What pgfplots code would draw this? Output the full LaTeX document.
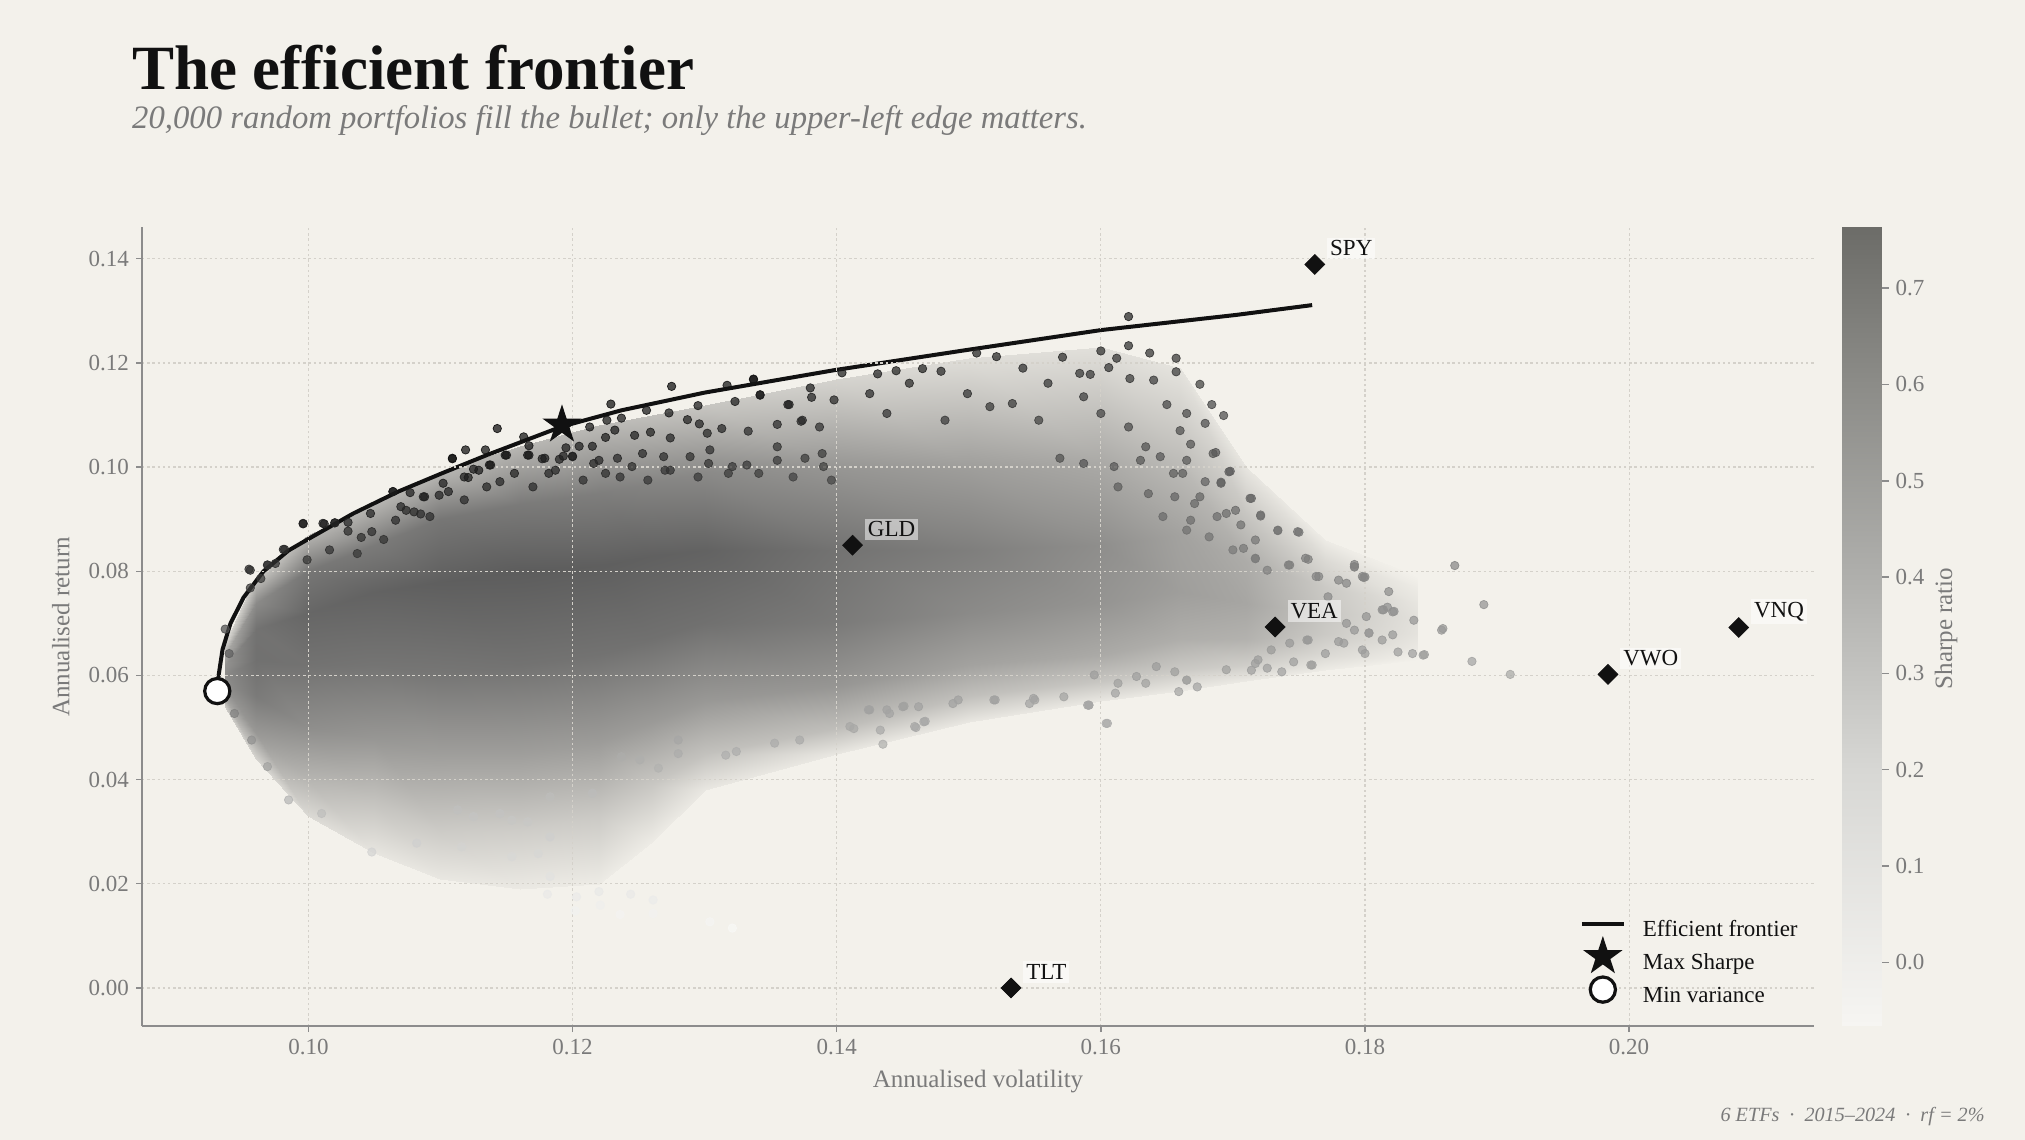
\documentclass[border=0pt]{standalone}
\usepackage{pgfplots}
\pgfplotsset{compat=1.18}
\usepackage{pgfplotstable}
\usepackage{fontspec}
\setmainfont{Liberation Serif}
\definecolor{bg}{RGB}{243,241,235}
\definecolor{ink}{RGB}{17,17,17}
\definecolor{axgray}{RGB}{140,140,140}
\definecolor{txtgray}{RGB}{122,122,122}
\definecolor{gridc}{RGB}{212,209,202}

\pgfplotsset{
  colormap={cloud}{rgb255(0pt)=(243,241,235) rgb255(80pt)=(243,241,235) rgb255(1000pt)=(90,90,90)},
  colormap={dots}{rgb255(0pt)=(248,248,246) rgb255(1000pt)=(12,12,12)},
  colormap={cbar}{rgb255(0pt)=(246,245,242) rgb255(321pt)=(215,215,212) rgb255(562pt)=(175,175,172) rgb255(803pt)=(140,140,136) rgb255(1000pt)=(108,108,104)},
  linelegend/.style={legend image code/.code={\draw[##1] (0bp,3.5bp) -- (21bp,3.5bp);}},
  marklegend/.style={legend image code/.code={\path[draw=none, fill=none] (0bp,0bp) rectangle (21bp,7bp); \draw[##1, overlay] plot coordinates {(10.5bp,3.5bp)};}},
}

\pgfdeclareplotmark{fstar}{%
  \pgfpathmoveto{\pgfpointpolar{90}{\pgfplotmarksize}}%
  \pgfpathlineto{\pgfpointpolar{126}{0.382\pgfplotmarksize}}%
  \pgfpathlineto{\pgfpointpolar{162}{\pgfplotmarksize}}%
  \pgfpathlineto{\pgfpointpolar{198}{0.382\pgfplotmarksize}}%
  \pgfpathlineto{\pgfpointpolar{234}{\pgfplotmarksize}}%
  \pgfpathlineto{\pgfpointpolar{270}{0.382\pgfplotmarksize}}%
  \pgfpathlineto{\pgfpointpolar{306}{\pgfplotmarksize}}%
  \pgfpathlineto{\pgfpointpolar{342}{0.382\pgfplotmarksize}}%
  \pgfpathlineto{\pgfpointpolar{18}{\pgfplotmarksize}}%
  \pgfpathlineto{\pgfpointpolar{54}{0.382\pgfplotmarksize}}%
  \pgfpathclose
  \pgfusepathqfill
}

% density of the cloud of random portfolios: vol, return, darkness
\pgfplotstableread{
x y d
0.0937 0.054 0.20
0.0937 0.056 0.42
0.0937 0.058 0.50
0.0937 0.060 0.52
0.0937 0.062 0.48
0.0937 0.064 0.36
0.0937 0.066 0.15
0.0960 0.044 0.15
0.0960 0.049 0.45
0.0960 0.056 0.60
0.0960 0.063 0.65
0.0960 0.069 0.64
0.0960 0.074 0.52
0.0960 0.079 0.20
0.1000 0.033 0.12
0.1000 0.040 0.30
0.1000 0.050 0.50
0.1000 0.062 0.64
0.1000 0.072 0.70
0.1000 0.080 0.62
0.1000 0.087 0.30
0.1050 0.026 0.06
0.1050 0.036 0.24
0.1050 0.048 0.46
0.1050 0.062 0.63
0.1050 0.076 0.72
0.1050 0.085 0.60
0.1050 0.093 0.30
0.1100 0.021 0.05
0.1100 0.030 0.19
0.1100 0.045 0.42
0.1100 0.060 0.62
0.1100 0.078 0.74
0.1100 0.090 0.62
0.1100 0.099 0.30
0.1160 0.019 0.04
0.1160 0.030 0.18
0.1160 0.045 0.42
0.1160 0.062 0.64
0.1160 0.080 0.75
0.1160 0.093 0.60
0.1160 0.104 0.30
0.1220 0.020 0.03
0.1220 0.033 0.20
0.1220 0.047 0.43
0.1220 0.064 0.64
0.1220 0.081 0.74
0.1220 0.095 0.58
0.1220 0.108 0.28
0.1260 0.028 0.03
0.1260 0.039 0.21
0.1260 0.051 0.44
0.1260 0.067 0.65
0.1260 0.083 0.73
0.1260 0.097 0.55
0.1260 0.110 0.25
0.1300 0.038 0.05
0.1300 0.045 0.24
0.1300 0.055 0.45
0.1300 0.070 0.65
0.1300 0.084 0.72
0.1300 0.099 0.52
0.1300 0.112 0.22
0.1400 0.045 0.05
0.1400 0.050 0.26
0.1400 0.058 0.46
0.1400 0.070 0.60
0.1400 0.084 0.64
0.1400 0.100 0.46
0.1400 0.117 0.15
0.1500 0.051 0.05
0.1500 0.056 0.25
0.1500 0.062 0.40
0.1500 0.072 0.52
0.1500 0.084 0.58
0.1500 0.100 0.42
0.1500 0.121 0.10
0.1600 0.055 0.05
0.1600 0.059 0.22
0.1600 0.064 0.36
0.1600 0.074 0.47
0.1600 0.085 0.50
0.1600 0.101 0.36
0.1600 0.123 0.09
0.1660 0.057 0.04
0.1660 0.061 0.20
0.1660 0.067 0.34
0.1660 0.076 0.42
0.1660 0.087 0.40
0.1660 0.101 0.27
0.1660 0.119 0.07
0.1710 0.059 0.04
0.1710 0.062 0.18
0.1710 0.067 0.32
0.1710 0.074 0.38
0.1710 0.082 0.35
0.1710 0.091 0.22
0.1710 0.100 0.06
0.1770 0.061 0.03
0.1770 0.064 0.12
0.1770 0.068 0.20
0.1770 0.072 0.22
0.1770 0.077 0.20
0.1770 0.082 0.12
0.1770 0.086 0.03
0.1840 0.063 0.00
0.1840 0.065 0.04
0.1840 0.068 0.07
0.1840 0.071 0.08
0.1840 0.074 0.06
0.1840 0.077 0.03
0.1840 0.079 0.00
}\cloudtab

% individual portfolios at the thin edges of the cloud
\pgfplotstableread{
x y
0.1143 0.1074
0.1229 0.1121
0.1275 0.1155
0.1317 0.1157
0.1337 0.1168
0.1380 0.1152
0.1256 0.1109
0.1273 0.1104
0.1295 0.1118
0.1323 0.1126
0.1342 0.1139
0.1237 0.1094
0.1226 0.1090
0.1213 0.1077
0.1232 0.1071
0.1247 0.1061
0.1259 0.1067
0.1274 0.1056
0.1287 0.1091
0.1296 0.1083
0.1302 0.1065
0.1313 0.1074
0.1333 0.1069
0.1355 0.1082
0.1363 0.1120
0.1373 0.1088
0.1387 0.1077
0.1381 0.1134
0.1167 0.1023
0.1167 0.1041
0.1150 0.1023
0.1195 0.1037
0.1200 0.1021
0.1205 0.1040
0.1215 0.1040
0.1225 0.1057
0.1177 0.1016
0.1190 0.1015
0.1119 0.1033
0.1109 0.1016
0.1134 0.1033
0.1163 0.1058
0.1121 0.0980
0.1125 0.0996
0.1137 0.1004
0.1145 0.0972
0.1087 0.0943
0.1077 0.0951
0.1064 0.0953
0.1070 0.0924
0.1085 0.0910
0.1030 0.0894
0.1020 0.0893
0.1012 0.0891
0.0996 0.0891
0.0981 0.0842
0.0955 0.0804
0.0969 0.0812
0.0975 0.0815
0.0964 0.0786
0.0956 0.0768
0.0937 0.0689
0.0940 0.0642
0.1047 0.0911
0.1102 0.0969
0.1182 0.0988
0.1220 0.1013
0.1253 0.1026
0.1304 0.1033
0.1355 0.1039
0.1389 0.1026
0.1270 0.0994
0.1321 0.1001
0.1236 0.0981
0.0996 0.0892
0.0982 0.0842
0.1011 0.0892
0.1020 0.0893
0.1030 0.0877
0.1040 0.0865
0.1048 0.0876
0.1057 0.0861
0.1064 0.0953
0.1088 0.0943
0.1080 0.0914
0.1106 0.0953
0.1109 0.1017
0.1118 0.0981
0.1129 0.0994
0.1138 0.1004
0.1149 0.1023
0.1166 0.1023
0.1179 0.1017
0.1193 0.1021
0.1200 0.1020
0.1216 0.1007
0.1234 0.1017
0.1245 0.1001
0.1269 0.1020
0.1289 0.1020
0.1303 0.1007
0.1332 0.1004
0.1355 0.1013
0.1376 0.1017
0.1390 0.1001
0.0969 0.0812
0.0956 0.0802
0.0999 0.0822
0.1016 0.0841
0.1037 0.0834
0.1066 0.0898
0.1074 0.0917
0.1092 0.0905
0.1099 0.0946
0.1118 0.0937
0.1135 0.0962
0.1156 0.0988
0.1170 0.0962
0.1187 0.0994
0.1208 0.0975
0.1225 0.0988
0.1257 0.0975
0.1274 0.0994
0.1295 0.0981
0.1318 0.0988
0.1341 0.0988
0.1367 0.0981
0.1396 0.0975
0.1621 0.1289
0.1621 0.1233
0.1637 0.1219
0.1657 0.1209
0.1657 0.1183
0.1675 0.1159
0.1600 0.1223
0.1571 0.1211
0.1612 0.1209
0.1584 0.1180
0.1592 0.1178
0.1606 0.1191
0.1622 0.1170
0.1640 0.1167
0.1650 0.1120
0.1684 0.1120
0.1693 0.1099
0.1665 0.1103
0.1679 0.1084
0.1660 0.1070
0.1668 0.1044
0.1687 0.1028
0.1698 0.0992
0.1691 0.0971
0.1714 0.0940
0.1721 0.0906
0.1734 0.0878
0.1750 0.0875
0.1706 0.0889
0.1717 0.0860
0.1717 0.0824
0.1757 0.0823
0.1792 0.0808
0.1800 0.0789
0.1742 0.0812
0.1765 0.0790
0.1780 0.0783
0.1814 0.0726
0.1822 0.0723
0.1803 0.0681
0.1780 0.0665
0.1800 0.0642
0.1770 0.0642
0.1756 0.0668
0.1759 0.0620
0.1719 0.0630
0.1695 0.0611
0.1665 0.0591
0.1634 0.0585
0.1611 0.0566
0.1590 0.0543
0.1550 0.0553
0.1519 0.0553
0.1492 0.0553
0.1462 0.0540
0.1438 0.0534
0.1425 0.0534
0.1506 0.1219
0.1521 0.1212
0.1541 0.1190
0.1479 0.1184
0.1465 0.1189
0.1445 0.1185
0.1431 0.1179
0.1404 0.1181
0.1364 0.1120
0.1342 0.1138
0.1337 0.1169
0.1455 0.1161
0.1499 0.1141
0.1533 0.1122
0.1560 0.1161
0.1587 0.1135
0.1398 0.1129
0.1425 0.1141
0.1374 0.1090
0.1438 0.1103
0.1482 0.1090
0.1516 0.1116
0.1553 0.1090
0.1600 0.1103
0.1621 0.1077
0.1634 0.1039
0.1655 0.0988
0.1675 0.0943
0.1695 0.0911
0.1668 0.0898
0.1569 0.1017
0.1587 0.1007
0.1610 0.1001
0.1630 0.1013
0.1645 0.1020
0.1665 0.1013
0.1685 0.1026
0.1697 0.0991
0.1662 0.0988
0.1679 0.0972
0.1691 0.0969
0.1713 0.0940
0.1721 0.0908
0.1749 0.0876
0.1734 0.0879
0.1708 0.0844
0.1717 0.0825
0.1613 0.0962
0.1636 0.0949
0.1656 0.0943
0.1671 0.0930
0.1688 0.0905
0.1702 0.0917
0.1647 0.0905
0.1665 0.0879
0.1682 0.0866
0.1700 0.0841
0.1726 0.0802
0.1743 0.0812
0.1755 0.0825
0.1763 0.0790
0.1792 0.0809
0.1798 0.0790
0.1818 0.0761
0.1786 0.0777
0.1772 0.0751
0.1801 0.0713
0.1813 0.0726
0.1821 0.0722
0.1786 0.0700
0.1792 0.0687
0.1813 0.0668
0.1821 0.0678
0.1836 0.0642
0.1844 0.0639
0.1859 0.0690
0.1784 0.0662
0.1798 0.0649
0.1757 0.0668
0.1743 0.0662
0.1729 0.0649
0.1717 0.0623
0.1726 0.0614
0.1714 0.0610
0.1737 0.0607
0.1746 0.0626
0.1760 0.0620
0.1410 0.0502
0.1433 0.0495
0.1459 0.0502
0.1466 0.0511
0.1424 0.0534
0.1440 0.0527
0.1450 0.0540
0.1488 0.0546
0.1520 0.0553
0.1549 0.0556
0.1572 0.0559
0.1591 0.0543
0.1604 0.0508
0.1613 0.0585
0.1627 0.0598
0.1665 0.0591
0.1673 0.0578
0.1659 0.0569
0.1642 0.0617
0.1656 0.0607
0.1595 0.0601
0.1181 0.0180
0.1203 0.0175
0.1220 0.0185
0.1244 0.0180
0.1261 0.0169
0.1236 0.0141
0.1261 0.0143
0.1304 0.0127
0.1321 0.0115
0.1202 0.0148
0.1221 0.0159
0.1183 0.0214
0.1154 0.0322
0.1166 0.0319
0.1145 0.0335
0.1183 0.0290
0.1215 0.0374
0.1183 0.0367
0.1265 0.0422
0.1316 0.0447
0.1324 0.0454
0.1353 0.0470
0.1372 0.0476
0.1413 0.0498
0.1435 0.0468
0.1460 0.0500
0.1467 0.0512
0.1451 0.0541
0.1546 0.0546
0.1591 0.0543
0.1605 0.0508
0.1280 0.0450
0.1251 0.0438
0.1237 0.0444
0.1280 0.0476
0.1113 0.0342
0.1125 0.0329
0.1082 0.0278
0.1116 0.0271
0.1048 0.0261
0.1154 0.0252
0.1174 0.0258
0.1010 0.0335
0.0985 0.0361
0.0969 0.0425
0.0957 0.0476
0.0944 0.0527
0.1868 0.0811
0.1890 0.0736
0.1858 0.0687
0.1881 0.0627
0.1910 0.0602
0.1845 0.0640
0.1792 0.0813
0.1799 0.0788
0.1825 0.0645
0.1817 0.0731
0.1837 0.0706
0.1803 0.0682
}\dotstab

\pgfplotstableread{
x y
0.0931 0.0570
0.0932 0.0600
0.0935 0.0650
0.0941 0.0700
0.0951 0.0750
0.0966 0.0800
0.0985 0.0840
0.1000 0.0862
0.1034 0.0911
0.1068 0.0953
0.1101 0.0988
0.1135 0.1023
0.1192 0.1078
0.1237 0.1109
0.1300 0.1143
0.1398 0.1186
0.1499 0.1225
0.1600 0.1263
0.1702 0.1292
0.1760 0.1311
}\frontier

\pgfplotstableread{
x y label
0.1762 0.1389 SPY
0.1412 0.0850 GLD
0.1732 0.0693 VEA
0.1984 0.0602 VWO
0.2083 0.0692 VNQ
0.1532 0.0000 TLT
}\assets

\begin{document}
\begin{tikzpicture}
\fill[bg] (0,0) rectangle (1012.5bp,570bp);
\path[use as bounding box] (0,0) rectangle (1012.5bp,570bp);
\node[anchor=base west, inner sep=0pt, text=ink, font=\fontsize{31.5bp}{36bp}\selectfont\bfseries] at (65.9bp,525bp) {The efficient frontier};
\node[anchor=base west, inner sep=0pt, text=txtgray, font=\fontsize{16.35bp}{19bp}\selectfont\itshape] at (65.9bp,505.9bp) {20,000 random portfolios fill the bullet; only the upper-left edge matters.};
\node[anchor=base east, inner sep=0pt, text=txtgray, font=\fontsize{10.1bp}{12bp}\selectfont\itshape] at (992.5bp,9.5bp) {6 ETFs\hspace{5bp}·\hspace{5bp}2015–2024\hspace{5bp}·\hspace{5bp}rf = 2\%};
\node[rotate=90, anchor=center, inner sep=0pt, font=\fontsize{12.5bp}{14bp}\selectfont, text=txtgray] at (973bp,255.8bp) {Sharpe ratio};
\begin{axis}[
  at={(71bp,57bp)}, anchor=south west,
  scale only axis, width=836bp, height=399.25bp,
  xmin=0.0874, xmax=0.2140, ymin=-0.0073, ymax=0.1460,
  axis on top,
  axis x line*=bottom, axis y line*=left,
  axis line style={draw=axgray, line width=0.8bp, -},
  tick align=outside, major tick length=3bp,
  tick style={draw=axgray, line width=0.7bp},
  xtick={0.10,0.12,0.14,0.16,0.18,0.20},
  ytick={0,0.02,0.04,0.06,0.08,0.10,0.12,0.14},
  scaled ticks=false,
  /pgf/number format/assume math mode=true,
  x tick label style={/pgf/number format/fixed, /pgf/number format/fixed zerofill, /pgf/number format/precision=2},
  y tick label style={/pgf/number format/fixed, /pgf/number format/fixed zerofill, /pgf/number format/precision=2},
  ticklabel style={font=\fontsize{11.5bp}{13bp}\selectfont, text=txtgray},
  grid=major,
  major grid style={draw=gridc, line width=0.6bp, dash pattern=on 1.2bp off 1.4bp},
  xlabel={Annualised volatility}, ylabel={Annualised return},
  label style={font=\fontsize{12.5bp}{14bp}\selectfont, text=txtgray},
  xlabel style={at={(axis description cs:0.5,-0.0701)}, anchor=center},
  ylabel style={at={(axis description cs:-0.0485,0.5)}, anchor=center},
  colormap name=cbar, point meta min=-0.066, point meta max=0.763,
  legend cell align=left,
  legend style={at={(1,0)}, anchor=south east, xshift=-5.5bp, yshift=6.5bp,
    draw=none, fill=none, inner sep=0pt, row sep=0.5bp,
    font=\fontsize{11.5bp}{13bp}\selectfont, text=ink,
    nodes={text height=8.5bp, text depth=2.5bp, inner sep=2.5bp},
    /tikz/every odd column/.append style={column sep=6bp}},
]
\addplot[surf, shader=interp, colormap name=cloud, point meta=\thisrow{d},
  mesh/cols=7, forget plot] table[x=x, y=y] {\cloudtab};

\addplot[scatter, only marks, mark=*, mark size=2.1bp, colormap name=dots,
  scatter/use mapped color={draw=mapped color, fill=mapped color, draw opacity=0.9, fill opacity=0.72, line width=0.35bp},
  point meta={(\thisrow{y}-0.02)/\thisrow{x}}, forget plot] table[x=x, y=y] {\dotstab};

\addplot[draw=ink, line width=2bp, linelegend] table[x=x, y=y] {\frontier};
\addlegendentry{Efficient frontier}

\addplot[only marks, mark=fstar, mark size=10.3bp, color=ink, marklegend] coordinates {(0.1192,0.1081)};
\addlegendentry{Max Sharpe}

\addplot[only marks, mark=*, mark size=6.3bp, mark options={draw=ink, fill=white, line width=1.6bp}, marklegend] coordinates {(0.0931,0.0570)};
\addlegendentry{Min variance}

\addplot[only marks, mark=square*, mark size=3.5bp, mark options={rotate=45, fill=ink, draw=ink},
  nodes near coords, point meta=explicit symbolic,
  every node near coord/.append style={anchor=west, xshift=6bp, yshift=8bp, font=\fontsize{11.5bp}{13bp}\selectfont, text=ink, fill=white, fill opacity=0.5, text opacity=1, inner sep=1.5bp},
  forget plot] table[x=x, y=y, meta=label] {\assets};
\end{axis}

% colour scale of the Sharpe ratio
\begin{axis}[
  at={(920.8bp,57bp)}, anchor=south west,
  scale only axis, width=20bp, height=399.25bp,
  xmin=0, xmax=1, ymin=-0.066, ymax=0.763,
  axis on top,
  hide x axis,
  axis y line*=right,
  y axis line style={draw=none},
  ytick={0,0.1,0.2,0.3,0.4,0.5,0.6,0.7},
  tick align=outside, major tick length=3.5bp,
  tick style={draw=axgray, line width=0.7bp},
  /pgf/number format/assume math mode=true,
  y tick label style={/pgf/number format/fixed, /pgf/number format/fixed zerofill, /pgf/number format/precision=1},
  ticklabel style={font=\fontsize{11.5bp}{13bp}\selectfont, text=txtgray},
  colormap name=cbar, point meta min=-0.066, point meta max=0.763,
]
\addplot[surf, shader=interp, point meta=y, mesh/cols=2] coordinates {(0,-0.066) (1,-0.066) (0,0.763) (1,0.763)};
\end{axis}
\end{tikzpicture}
\end{document}
